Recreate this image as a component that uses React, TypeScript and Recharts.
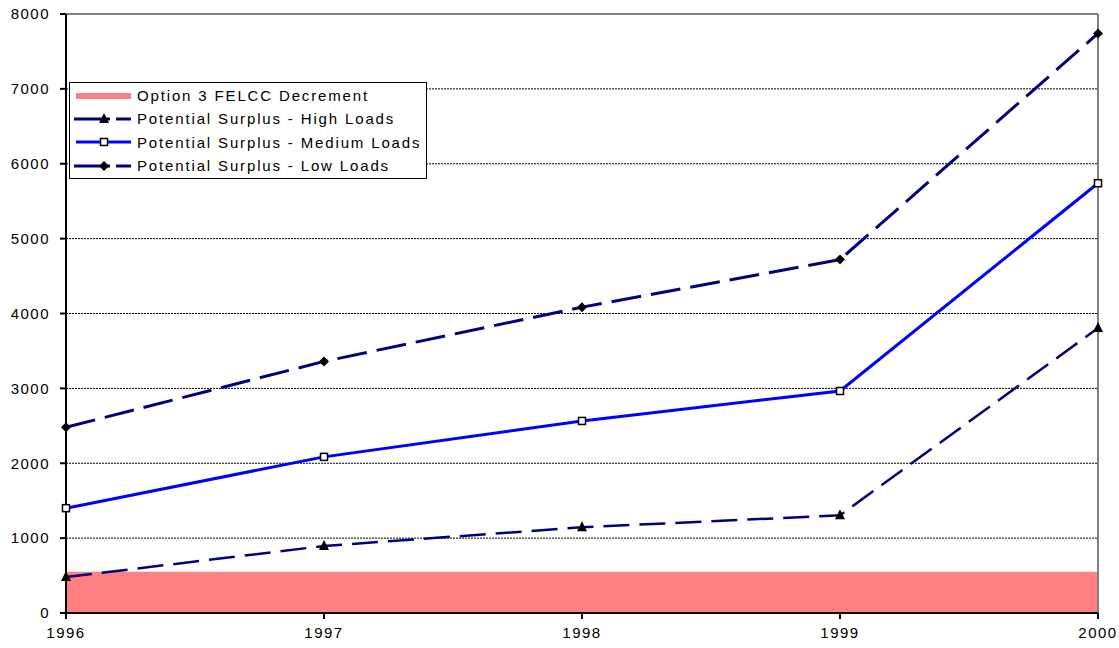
import React from "react";
import {
  ComposedChart,
  Area,
  Line,
  XAxis,
  YAxis,
  CartesianGrid,
  ReferenceLine,
} from "recharts";

const years = [1996, 1997, 1998, 1999, 2000];
const felccDecrement = [550, 550, 550, 550, 550];
const highLoads = [480, 895, 1145, 1305, 3805];
const mediumLoads = [1400, 2085, 2565, 2965, 5740];
const lowLoads = [2480, 3360, 4085, 4720, 7740];
const yTicks = [0, 1000, 2000, 3000, 4000, 5000, 6000, 7000, 8000];

const data = years.map((year, i) => ({
  year,
  felcc: felccDecrement[i],
  high: highLoads[i],
  medium: mediumLoads[i],
  low: lowLoads[i],
}));

const NAVY = "#000080";
const BLUE = "#0000FF";
const PINK = "#FF8080";
const FONT = "Liberation Sans, Arial, sans-serif";

const Triangle = (props: any) => {
  const { cx, cy } = props;
  return (
    <path
      key={`t-${cx}`}
      d={`M${cx},${cy - 6} L${cx + 5},${cy + 4} L${cx - 5},${cy + 4} Z`}
      fill="#000"
    />
  );
};

const Square = (props: any) => {
  const { cx, cy } = props;
  return (
    <rect
      key={`s-${cx}`}
      x={cx - 3.5}
      y={cy - 3.5}
      width={7}
      height={7}
      fill="#fff"
      stroke="#000"
      strokeWidth={1.5}
    />
  );
};

const Diamond = (props: any) => {
  const { cx, cy } = props;
  return (
    <path
      key={`d-${cx}`}
      d={`M${cx},${cy - 5} L${cx + 5},${cy} L${cx},${cy + 5} L${cx - 5},${cy} Z`}
      fill="#000"
    />
  );
};

const legendRows = [
  { label: "Option 3 FELCC Decrement", kind: "area" },
  { label: "Potential Surplus - High Loads", kind: "high" },
  { label: "Potential Surplus - Medium Loads", kind: "medium" },
  { label: "Potential Surplus - Low Loads", kind: "low" },
];

const Swatch = ({ kind }: { kind: string }) => {
  const cy = 8;
  if (kind === "area") {
    return (
      <svg width={58} height={16}>
        <line x1={2} y1={cy} x2={57} y2={cy} stroke={PINK} strokeWidth={6} />
      </svg>
    );
  }
  const color = kind === "medium" ? BLUE : NAVY;
  return (
    <svg width={58} height={16}>
      {kind === "medium" ? (
        <line x1={2} y1={cy} x2={57} y2={cy} stroke={color} strokeWidth={3} />
      ) : (
        <>
          <line x1={0} y1={cy} x2={36} y2={cy} stroke={color} strokeWidth={3} />
          <line x1={42} y1={cy} x2={57} y2={cy} stroke={color} strokeWidth={3} />
        </>
      )}
      {kind === "high" && <Triangle cx={30} cy={cy} />}
      {kind === "medium" && <Square cx={30} cy={cy} />}
      {kind === "low" && <Diamond cx={30} cy={cy} />}
    </svg>
  );
};

const CustomLegend = () => (
  <div
    style={{
      position: "absolute",
      left: 69,
      top: 82,
      boxSizing: "border-box",
      width: 358,
      height: 97,
      border: "1.5px solid #000",
      background: "#fff",
      padding: "1px 0 0 4px",
      fontFamily: FONT,
      fontSize: 15,
      letterSpacing: 1.85,
      color: "#000",
    }}
  >
    {legendRows.map((r) => (
      <div
        key={r.label}
        style={{ display: "flex", alignItems: "center", height: 23.3 }}
      >
        <Swatch kind={r.kind} />
        <span style={{ marginLeft: 5, whiteSpace: "nowrap" }}>{r.label}</span>
      </div>
    ))}
  </div>
);

const tickStyle = { fill: "#000", fontSize: 15, fontFamily: FONT, letterSpacing: 1.5 };

export default function App() {
  return (
    <div style={{ position: "absolute", left: 0, top: 0, width: 1119, height: 648 }}>
      <ComposedChart
        width={1119}
        height={648}
        data={data}
        margin={{ top: 14, right: 21, left: 4, bottom: 5 }}
      >
        <CartesianGrid
          vertical={false}
          stroke="#000"
          strokeDasharray="2 1"
          strokeWidth={1}
        />
        <XAxis
          dataKey="year"
          type="number"
          domain={[1996, 2000]}
          ticks={years}
          height={30}
          tickSize={6}
          tickMargin={8}
          axisLine={{ stroke: "#000", strokeWidth: 2 }}
          tickLine={{ stroke: "#000", strokeWidth: 2 }}
          tick={tickStyle}
        />
        <YAxis
          type="number"
          domain={[0, 8000]}
          ticks={yTicks}
          width={62}
          tickSize={6}
          tickMargin={10}
          axisLine={{ stroke: "#000", strokeWidth: 2 }}
          tickLine={{ stroke: "#000", strokeWidth: 2 }}
          tick={tickStyle}
        />
        <ReferenceLine y={8000} stroke="#808080" strokeWidth={2} />
        <ReferenceLine x={2000} stroke="#808080" strokeWidth={2} />
        <Area
          dataKey="felcc"
          type="linear"
          fill={PINK}
          fillOpacity={1}
          stroke="none"
          isAnimationActive={false}
        />
        <Line
          dataKey="high"
          type="linear"
          stroke={NAVY}
          strokeWidth={2.5}
          strokeDasharray="26 10"
          dot={<Triangle />}
          isAnimationActive={false}
        />
        <Line
          dataKey="medium"
          type="linear"
          stroke={BLUE}
          strokeWidth={3}
          dot={<Square />}
          isAnimationActive={false}
        />
        <Line
          dataKey="low"
          type="linear"
          stroke={NAVY}
          strokeWidth={3}
          strokeDasharray="30 10"
          dot={<Diamond />}
          isAnimationActive={false}
        />
      </ComposedChart>
      <CustomLegend />
    </div>
  );
}
